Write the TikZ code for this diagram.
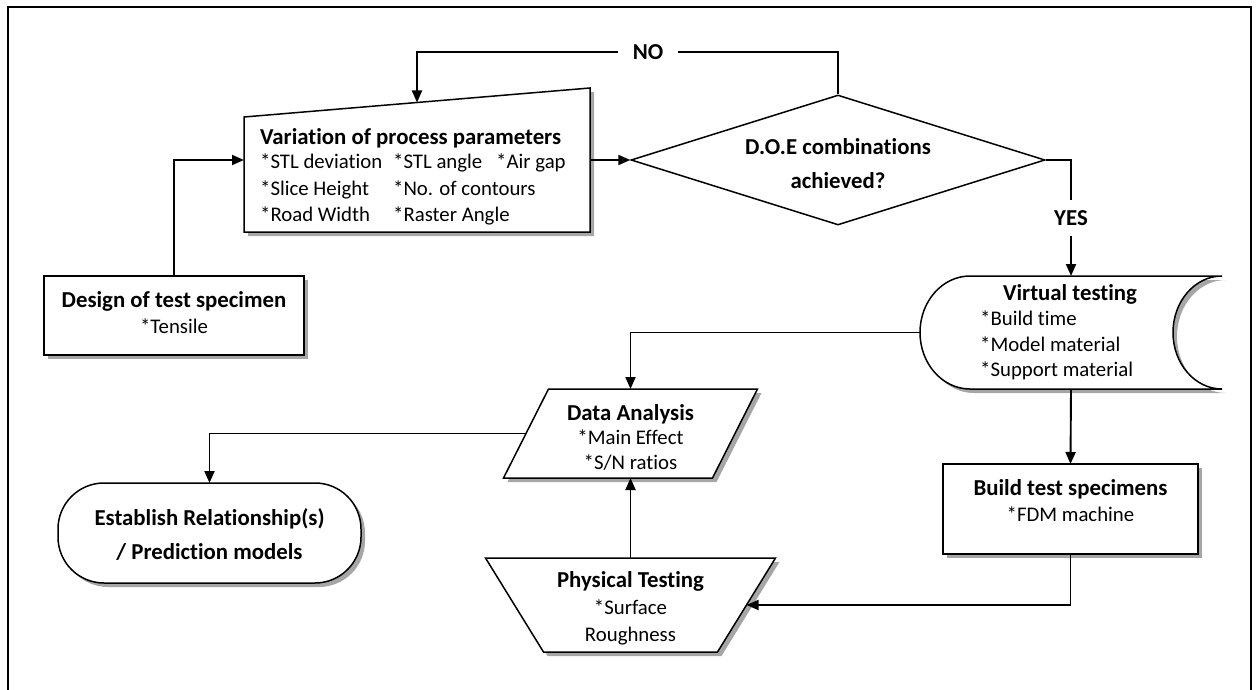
\documentclass[tikz,border=0pt]{standalone}
\usepackage{fontspec}
\setmainfont{Carlito}[Ligatures=NoCommon]
\usetikzlibrary{arrows.meta,shapes.geometric,shadows,calc}
\newcommand{\bodyfnt}{\fontsize{20.8}{26}\selectfont}
\newcommand{\headfnt}{\bfseries\fontsize{22.8}{27}\selectfont}
\begin{document}
\begin{tikzpicture}[x=1pt,y=-1pt,
  arr/.style={line width=1.9pt,-{Triangle[length=12pt,width=10pt]}},
  outline/.style={draw, line width=1.5pt, fill=white,
    drop shadow={shadow xshift=4pt, shadow yshift=-4pt, fill=black!35, opacity=1}},
  bbox/.style 2 args={rectangle, inner sep=0pt, outer sep=0pt, minimum width=#1, minimum height=#2},
  head/.style={anchor=base, inner sep=0pt, font=\headfnt},
  body/.style={anchor=base, inner sep=0pt, font=\bodyfnt},
  bodyl/.style={anchor=base west, inner sep=0pt, font=\bodyfnt},
  headl/.style={anchor=base west, inner sep=0pt, font=\headfnt},
  lbl/.style={fill=white, font=\headfnt, inner ysep=2pt},
]
\useasboundingbox (0,0) rectangle (1259,690);
% frame
\draw[line width=1.6pt] (8,690) -- (8,7) -- (1251,7) -- (1251,690);

% ---- Variation of process parameters (manual input)
\node[bbox={346pt}{144pt}] (var) at (417,160) {};
\coordinate (varTL) at ($(var.north west)+(0,29)$);
\coordinate (varin) at ($(varTL)!0.5!(var.north east)$);
\path[outline] (var.south west) -- (varTL) -- (var.north east) -- (var.south east) -- cycle;
\node[headl] (vart) at (260,145) {Variation of process parameters};
\node[bodyl] (v11) at (260,169) {*STL deviation};
\node[bodyl] (v12) at (393,169) {*STL angle};
\node[bodyl] (v13) at (496,169) {*Air gap};
\node[bodyl] (v21) at (260,196) {*Slice Height};
\node[bodyl] (v22) at (393,196) {*No. of contours};
\node[bodyl] (v31) at (260,221) {*Road Width};
\node[bodyl] (v32) at (393,221) {*Raster Angle};

% ---- decision diamond
\node[diamond, draw, line width=1.5pt, fill=white, inner sep=0pt, minimum width=414pt, minimum height=130pt] (dia) at (838,160) {};
\node[head] (dia1) at (838,155) {D.O.E combinations};
\node[head] (dia2) at (838,189) {achieved?};

% ---- Design of test specimen
\node[outline, bbox={260pt}{79pt}] (des) at (174,315.5) {};
\node[head] (des1) at (174,307) {Design of test specimen};
\node[body] (des2) at (174,333) {*Tensile};

% ---- Virtual testing (stored data)
\node[bbox={302pt}{113pt}] (virt) at (1071,332.5) {};
\path[outline] (970,389) .. controls (942.4,389) and (920,363.7) .. (920,332.5)
   .. controls (920,301.3) and (942.4,276) .. (970,276) -- (1222,276)
   .. controls (1194.9,276) and (1173,301.3) .. (1173,332.5)
   .. controls (1173,363.7) and (1194.9,389) .. (1222,389) -- cycle;
\node[head] (virt1) at (1070,300) {Virtual testing};
\node[bodyl] (virt2) at (980,325) {*Build time};
\node[bodyl] (virt3) at (980,351) {*Model material};
\node[bodyl] (virt4) at (980,376) {*Support material};

% ---- Build test specimens
\node[outline, bbox={255pt}{90pt}] (build) at (1070.5,509) {};
\node[head] (build1) at (1070.5,495) {Build test specimens};
\node[body] (build2) at (1070.5,521) {*FDM machine};

% ---- Data Analysis (parallelogram)
\node[bbox={254pt}{89pt}] (data) at (630.5,433.5) {};
\path[outline] (data.south west) -- ($(data.north west)+(45,0)$) -- (data.north east)
   -- ($(data.south east)+(-45,0)$) -- cycle;
\coordinate (dataL) at ($(data.south west)!0.5!(data.north west)+(22.5,0)$);
\node[head] (data1) at (630.5,420) {Data Analysis};
\node[body] (data2) at (630.5,444) {*Main Effect};
\node[body] (data3) at (630.5,469) {*S/N ratios};

% ---- Physical Testing (trapezoid)
\node[bbox={290pt}{94pt}] (phys) at (630.5,605) {};
\path[outline] (phys.north west) -- (phys.north east) -- ($(phys.south east)+(-58,0)$)
   -- ($(phys.south west)+(58,0)$) -- cycle;
\coordinate (physR) at ($(phys.north east)!0.5!(phys.south east)+(-29,0)$);
\node[head] (phys1) at (630.5,587) {Physical Testing};
\node[body] (phys2) at (630.5,614) {*Surface};
\node[body] (phys3) at (630.5,641) {Roughness};

% ---- Establish relationships (terminator)
\node[outline, bbox={303pt}{100pt}, rounded corners=46pt] (est) at (209.5,533) {};
\node[head] (est1) at (209.5,525) {Establish Relationship(s)};
\node[head] (est2) at (209.5,559) {/ Prediction models};

% ---- connectors
\draw[arr] (des.north) |- (var.west);
\draw[arr] (var.east) -- (dia.west);
\draw[arr] (dia.north) |- (648,52) node[lbl, inner xsep=15pt] (no) {NO} -| (varin);
\draw[arr] (dia.east) -| node[lbl, pos=0.75, inner ysep=10pt] (yes) {YES} (virt.north);
\draw[arr] (virt.west) -| (data.north);
\draw[arr] (virt.south) -- (build.north);
\draw[arr] (build.south) |- (physR);
\draw[arr] (phys.north) -- (data.south);
\draw[arr] (dataL) -| (est.north);
\end{tikzpicture}
\end{document}
